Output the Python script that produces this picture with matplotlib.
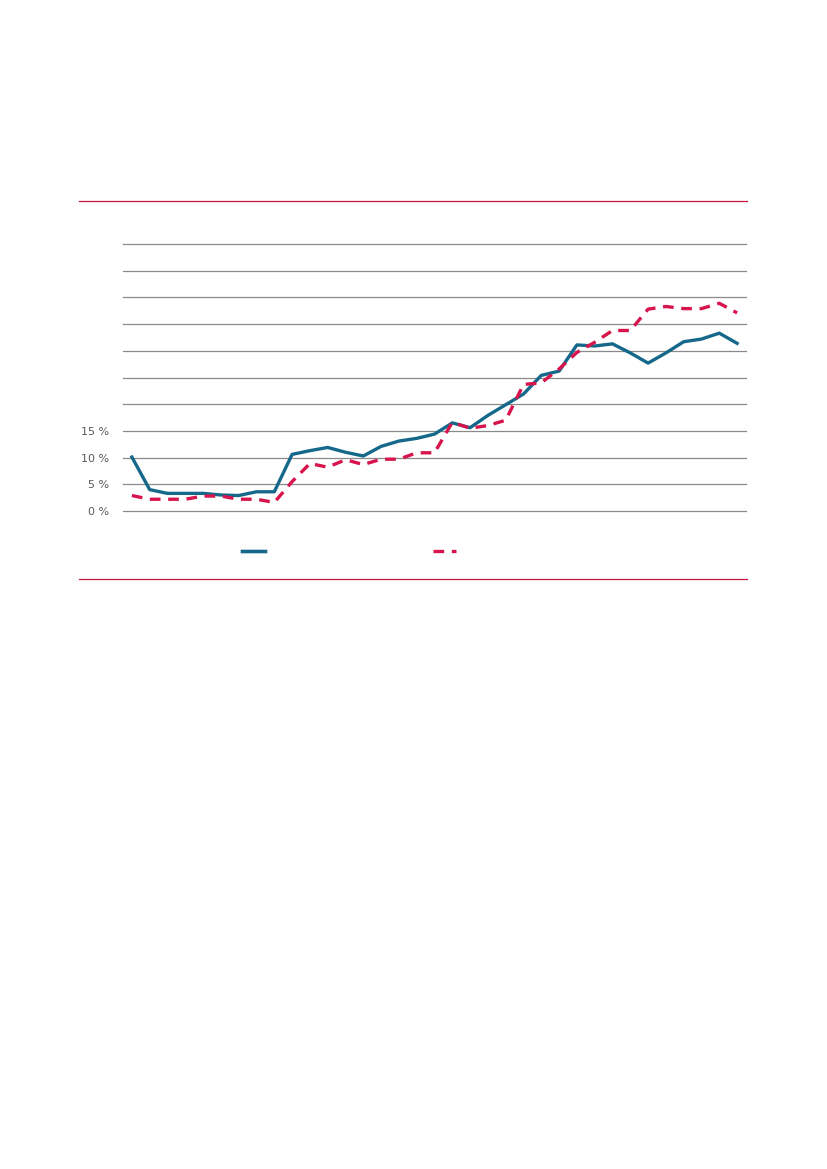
"""Two-series percentage line chart with empty legend labels."""

import matplotlib
matplotlib.use("Agg")
import matplotlib.pyplot as plt
from matplotlib.lines import Line2D

# --- data ---
periods = list(range(35))
series_solid = [
    10.1, 4.0, 3.3, 3.3, 3.3, 3.0, 2.9, 3.6, 3.6, 10.6,
    11.3, 11.9, 11.0, 10.3, 12.1, 13.1, 13.6, 14.4, 16.5, 15.6,
    17.9, 19.9, 21.9, 25.4, 26.2, 31.1, 30.9, 31.3, 29.6, 27.7,
    29.6, 31.7, 32.2, 33.3, 31.4,
]
series_dashed = [
    2.9, 2.2, 2.2, 2.2, 2.8, 2.8, 2.2, 2.2, 1.6, 5.5,
    8.9, 8.2, 9.6, 8.7, 9.7, 9.7, 10.9, 10.9, 16.6, 15.5,
    16.0, 17.0, 23.7, 24.0, 26.6, 29.7, 31.6, 33.8, 33.8, 37.8,
    38.3, 37.9, 37.9, 38.9, 37.1,
]
grid_levels = [0, 5, 10, 15, 20, 25, 30, 35, 40, 45, 50]
tick_labels = ["0 %", "5 %", "10 %", "15 %", "", "", "", "", "", "", ""]

BLUE = "#16688a"
RED = "#d7144b"
RULE = "#c8143c"
GRID = "#8a8a8a"
DASH = (3.2, 2.3)

W, H = 827, 1169
fig = plt.figure(figsize=(W / 100, H / 100), dpi=100)

# axes box in pixel terms -> figure fractions
left, right, top, bottom = 123, 746, 244, 511
ax = fig.add_axes([left / W, 1 - bottom / H, (right - left) / W, (bottom - top) / H])

ax.plot(periods, series_solid, color=BLUE, lw=2.4, clip_on=False, zorder=3)
ax.plot(periods, series_dashed, color=RED, lw=2.4, dashes=DASH,
        clip_on=False, zorder=4)

ax.set_xlim(-0.5, len(periods) - 0.5)
ax.set_ylim(0, 50)
ax.set_yticks(grid_levels)
ax.set_yticklabels(tick_labels)
ax.set_xticks([])
ax.tick_params(axis="y", length=0, pad=10, labelsize=8, labelcolor="#5a5a5a")
ax.yaxis.grid(True, color=GRID, lw=0.9)
for gl in ax.get_ygridlines():
    gl.set_clip_on(False)
ax.set_axisbelow(True)
for s in ax.spines.values():
    s.set_visible(False)

# legend samples (labels empty in the reference)
h1 = Line2D([], [], color=BLUE, lw=2.4)
h2 = Line2D([], [], color=RED, lw=2.4, dashes=DASH)
leg1 = fig.legend([h1], [""], loc="center left", frameon=False,
                  bbox_to_anchor=(230 / W, 1 - 552 / H), handlelength=1.6)
fig.legend([h2], [""], loc="center left", frameon=False,
           bbox_to_anchor=(421 / W, 1 - 552 / H), handlelength=1.65)
fig.add_artist(leg1)

# thin red rules above and below the chart block
for y in (201, 579):
    fig.add_artist(Line2D([79 / W, 747 / W], [1 - y / H, 1 - y / H],
                          color=RULE, lw=0.9))

fig.savefig("out.png", dpi=100)
